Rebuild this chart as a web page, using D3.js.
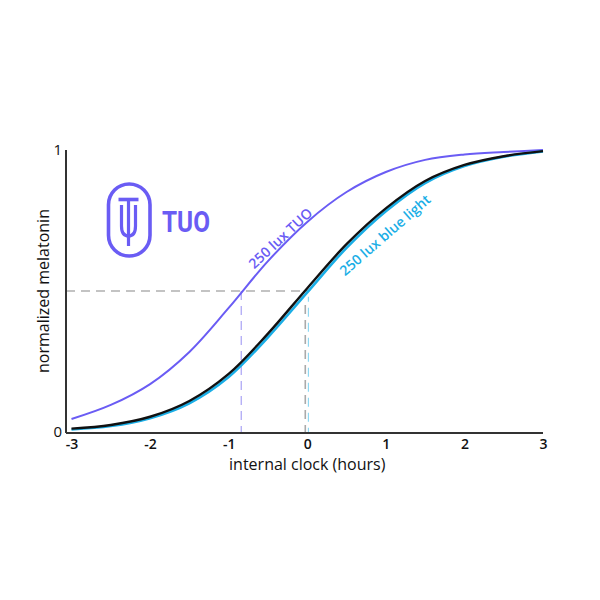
<!DOCTYPE html>
<html>
<head>
<meta charset="utf-8">
<script src="https://cdn.jsdelivr.net/npm/d3@7/dist/d3.min.js"></script>
<style>
  html, body { margin: 0; padding: 0; background: #fff; }
  svg { display: block; font-family: "Open Sans", "Noto Sans", sans-serif; }
</style>
</head>
<body>
<svg id="chart" width="600" height="600"></svg>
<script>
// ---- data ----
const hours = [-3, -2.5, -2, -1.5, -1, -0.5, 0, 0.5, 1, 1.5, 2, 2.5, 3];
const tuo   = [0.046, 0.096, 0.170, 0.284, 0.440, 0.606, 0.745, 0.851, 0.922, 0.965, 0.984, 0.993, 1.0];
const dark  = [0.012, 0.025, 0.054, 0.110, 0.206, 0.349, 0.510, 0.666, 0.793, 0.890, 0.947, 0.978, 0.996];
const blue  = [0.009, 0.021, 0.049, 0.102, 0.195, 0.336, 0.495, 0.653, 0.783, 0.883, 0.943, 0.976, 0.995];
const xTicks = [-3, -2, -1, 0, 1, 2, 3];
const yTicks = [0, 1];
const halfTimes = { tuo: -0.84, dark: -0.025, blue: 0.015 };
const labels = { tuo: "250 lux TUO", blue: "250 lux blue light", x: "internal clock (hours)", y: "normalized melatonin", logo: "TUO" };

const PURPLE = "#6a5cf4", CYAN = "#1aaee6", BLACK = "#111";

const svg = d3.select("#chart");
const x = d3.scaleLinear().domain([-3, 3]).range([71.5, 543]);
const y = d3.scaleLinear().domain([0, 1]).range([432, 150]);
const axisX0 = 66;

// dashed guides
const g = svg.append("g");
g.append("line").attr("x1", axisX0).attr("x2", x(halfTimes.blue))
  .attr("y1", y(0.5)).attr("y2", y(0.5))
  .attr("stroke", "#888").attr("stroke-width", 1.2).attr("stroke-dasharray", "9,6");
g.append("line").attr("x1", x(halfTimes.tuo)).attr("x2", x(halfTimes.tuo))
  .attr("y1", y(0.5)).attr("y2", y(0))
  .attr("stroke", "#a9a3f5").attr("stroke-width", 1.2).attr("stroke-dasharray", "9,6");
g.append("line").attr("x1", x(halfTimes.dark)).attr("x2", x(halfTimes.dark))
  .attr("y1", y(0.45)).attr("y2", y(0))
  .attr("stroke", "#aaa").attr("stroke-width", 1.6).attr("stroke-dasharray", "9,6");
g.append("line").attr("x1", x(halfTimes.blue)).attr("x2", x(halfTimes.blue))
  .attr("y1", y(0.48)).attr("y2", y(0))
  .attr("stroke", "#8fd8f2").attr("stroke-width", 1.2).attr("stroke-dasharray", "9,6").attr("stroke-dashoffset", 4);

// curves
const line = d3.line().x((d, i) => x(hours[i])).y(d => y(d)).curve(d3.curveCatmullRom.alpha(0.5));
svg.append("path").datum(tuo).attr("d", line).attr("fill", "none").attr("stroke", PURPLE).attr("stroke-width", 2);
svg.append("path").datum(blue).attr("d", line).attr("fill", "none").attr("stroke", CYAN).attr("stroke-width", 2.6);
svg.append("path").datum(dark).attr("d", line).attr("fill", "none").attr("stroke", BLACK).attr("stroke-width", 2.4);

// axes
svg.append("line").attr("x1", axisX0).attr("x2", axisX0).attr("y1", y(1)).attr("y2", y(0) + 1)
  .attr("stroke", "#333").attr("stroke-width", 2);
svg.append("line").attr("x1", axisX0).attr("x2", x(3)).attr("y1", y(0) + 1).attr("y2", y(0) + 1)
  .attr("stroke", "#333").attr("stroke-width", 2);

const xAxis = svg.append("g").attr("transform", `translate(0,${y(0) + 1})`)
  .call(d3.axisBottom(x).tickValues(xTicks).tickSize(0).tickPadding(6).tickFormat(d => String(d)));
xAxis.select(".domain").remove();
xAxis.selectAll("text").attr("font-size", 14).attr("font-weight", 600).attr("fill", "#111")
  .attr("font-family", "'Open Sans', sans-serif");

const yAxis = svg.append("g").attr("transform", `translate(${axisX0},0)`)
  .call(d3.axisLeft(y).tickValues(yTicks).tickSize(0).tickPadding(4).tickFormat(d => String(d)));
yAxis.select(".domain").remove();
yAxis.selectAll("text").attr("font-size", 15).attr("fill", "#111")
  .attr("font-family", "'Open Sans', sans-serif");

// axis titles
svg.append("text").attr("x", x(0)).attr("y", 470).attr("text-anchor", "middle")
  .attr("font-size", 16).attr("fill", "#111").text(labels.x);
svg.append("text").attr("transform", `translate(49,${y(0.5)}) rotate(-90)`).attr("text-anchor", "middle")
  .attr("font-size", 16).attr("fill", "#111").text(labels.y);

// curve labels
svg.append("text").attr("transform", `translate(${x(-0.33)},${y(0.684)}) rotate(-43)`)
  .attr("text-anchor", "middle").attr("dominant-baseline", "middle")
  .attr("font-size", 14).attr("font-weight", 600).attr("fill", PURPLE).text(labels.tuo);
svg.append("text").attr("transform", `translate(${x(1.0)},${y(0.695)}) rotate(-41)`)
  .attr("text-anchor", "middle").attr("dominant-baseline", "middle")
  .attr("font-size", 14).attr("font-weight", 600).attr("fill", CYAN).text(labels.blue);

// logo
const logo = svg.append("g").attr("fill", "none").attr("stroke", PURPLE).attr("stroke-width", 3.6).attr("stroke-linecap", "butt");
logo.append("rect").attr("x", 108.5).attr("y", 184).attr("width", 41.5).attr("height", 72).attr("rx", 20.75).attr("ry", 20.75);
logo.append("line").attr("x1", 118.5).attr("x2", 138.5).attr("y1", 199.5).attr("y2", 199.5);
logo.append("line").attr("x1", 128.5).attr("x2", 128.5).attr("y1", 199.5).attr("y2", 246).attr("stroke-width", 3.2);
logo.append("path").attr("d", "M121.5,205 L121.5,226 Q121.5,236 128.5,236 Q135.5,236 135.5,226 L135.5,205").attr("stroke-width", 3.2);
svg.append("text").attr("x", 162).attr("y", 232).attr("font-family", "Roboto, sans-serif")
  .attr("font-size", 30).attr("font-weight", 700).attr("fill", PURPLE)
  .attr("textLength", 48).attr("lengthAdjust", "spacingAndGlyphs").text(labels.logo);
</script>
</body>
</html>
